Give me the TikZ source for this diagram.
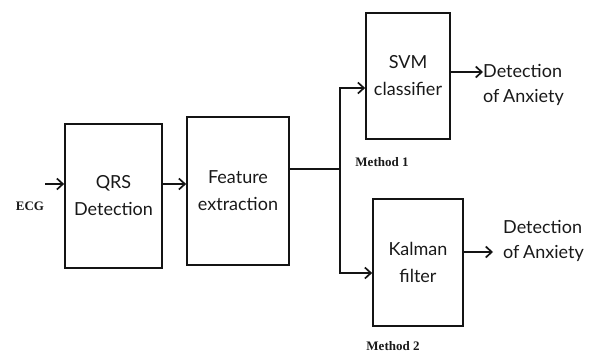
\documentclass[tikz,border=0pt]{standalone}
\usepackage{fontspec}
\setmainfont{Liberation Serif}
\newfontfamily\blockfont{Lato}
\usepackage{tikz}
\definecolor{inkline}{RGB}{20, 20, 20}
\definecolor{inktext}{RGB}{25, 25, 25}
\usetikzlibrary{arrows.meta, positioning, calc}
\tikzset{
    block/.style={draw=inkline, line width=1.7pt, align=center, inner sep=0pt,
                  text=inktext, font=\blockfont\fontsize{18}{27}\selectfont},
    wire/.style={draw=inkline, line width=1.7pt},
    flow/.style={wire, -{Straight Barb[length=6pt, width=11pt]}},
    result/.style={align=left, inner sep=0pt, text=inktext,
                   font=\blockfont\fontsize{18}{25}\selectfont},
    tag/.style={text=inktext, font=\bfseries\fontsize{13}{15}\selectfont}
}

\begin{document}
\begin{tikzpicture}[x=1pt, y=-1pt]
        \useasboundingbox (0,0) rectangle (593,354);
        \node[block, minimum width=97pt, minimum height=144pt] (qrs) at (113.5,196) {QRS\\Detection};
        \node[block, minimum width=102pt, minimum height=148pt] (feat) at (238,191) {Feature\\extraction};
        \node[block, minimum width=84pt, minimum height=126pt] (svm) at (408,76) {SVM\\classifier};
        \node[block, minimum width=90pt, minimum height=127pt] (kalman) at (418,262.5) {Kalman\\filter};
        \node[result, anchor=west] (res1) at (483,85) {Detection\\of\kern-1pt\ Anxiety};
        \node[result, anchor=west] (res2) at (503,241) {Detection\\of\kern-1pt\ Anxiety};
        \node[tag] (ecg) at (30,206) {ECG};
        \node[tag] (m1) at (382,162) {Method 1};
        \node[tag] (m2) at (393,346) {Method 2};
        \coordinate (ecgin) at (45,184);
        \coordinate (split) at (340,169);
        \draw[flow] (ecgin) -- (ecgin -| qrs.west);
        \draw[flow] (qrs.east |- ecgin) -- (feat.west |- ecgin);
        \draw[wire] (feat.east |- split) -- (split);
        \draw[flow] (split) |- ($(svm.west)+(0,12)$);
        \draw[flow] (split) |- ($(kalman.west)+(0,10.5)$);
        \draw[flow] ($(svm.east)+(0,-4)$) coordinate (o1) -- (o1 -| res1.west);
        \draw[flow] ($(kalman.east)+(0,-10.5)$) coordinate (o2) -- ($(o2 -| res2.west)+(-10,0)$);
    \end{tikzpicture}
\end{document}
